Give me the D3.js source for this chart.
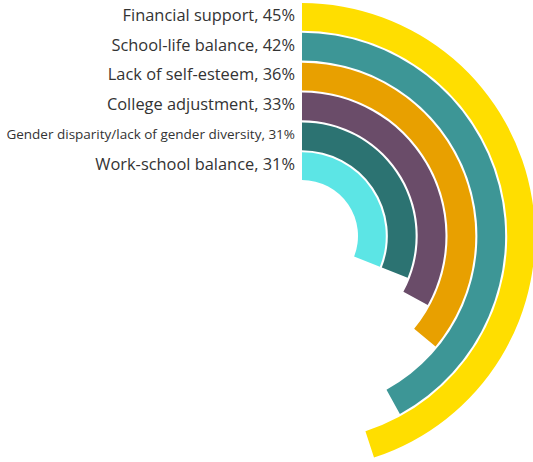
<!DOCTYPE html>
<html>
<head>
<meta charset="utf-8">
<script src="https://cdn.jsdelivr.net/npm/d3@7/dist/d3.min.js"></script>
<style>
  html, body { margin: 0; padding: 0; background: #fff; }
  svg { display: block; }
  text { font-family: "Open Sans", Lato, sans-serif; fill: #333; }
</style>
</head>
<body>
<svg id="chart" width="533" height="462"></svg>
<script>
// Reasons cited, outermost ring first
const categories = [
  "Financial support",
  "School-life balance",
  "Lack of self-esteem",
  "College adjustment",
  "Gender disparity/lack of gender diversity",
  "Work-school balance"
];
const values = [45, 42, 36, 33, 31, 31];
const colors = ["#FFDE00", "#3D9696", "#E8A000", "#6A4C69", "#2C7372", "#5CE5E5"];
const labelSizes = [16.4, 16.4, 16.4, 16.4, 13.5, 16.4];

const width = 533, height = 462;
const cx = 302, cy = 236;
const innerRadius = 56, outerRadius = 233;

const svg = d3.select("#chart");
const g = svg.append("g").attr("transform", `translate(${cx},${cy})`);

// Rings: outermost category gets the largest radius
const r = d3.scaleBand()
  .domain(categories)
  .range([outerRadius, innerRadius])
  .paddingInner(0.07)
  .paddingOuter(0);

// Percentage to angle around the full circle, starting at 12 o'clock
const angle = d3.scaleLinear().domain([0, 100]).range([0, 2 * Math.PI]);

const arc = d3.arc()
  .innerRadius(d => r(d.cat))
  .outerRadius(d => r(d.cat) + r.bandwidth())
  .startAngle(0)
  .endAngle(d => angle(d.value));

const data = categories.map((cat, i) => ({ cat, value: values[i], color: colors[i], size: labelSizes[i] }));

g.selectAll("path.ring")
  .data(data)
  .join("path")
  .attr("class", "ring")
  .attr("d", arc)
  .attr("fill", d => d.color);

// Labels sit to the left of each ring's start
g.selectAll("text.label")
  .data(data)
  .join("text")
  .attr("class", "label")
  .attr("x", -7)
  .attr("y", d => -(r(d.cat) + r.bandwidth() / 2) - 2)
  .attr("dy", "0.36em")
  .attr("text-anchor", "end")
  .attr("font-size", d => d.size)
  .text(d => `${d.cat}, ${d.value}%`);
</script>
</body>
</html>
